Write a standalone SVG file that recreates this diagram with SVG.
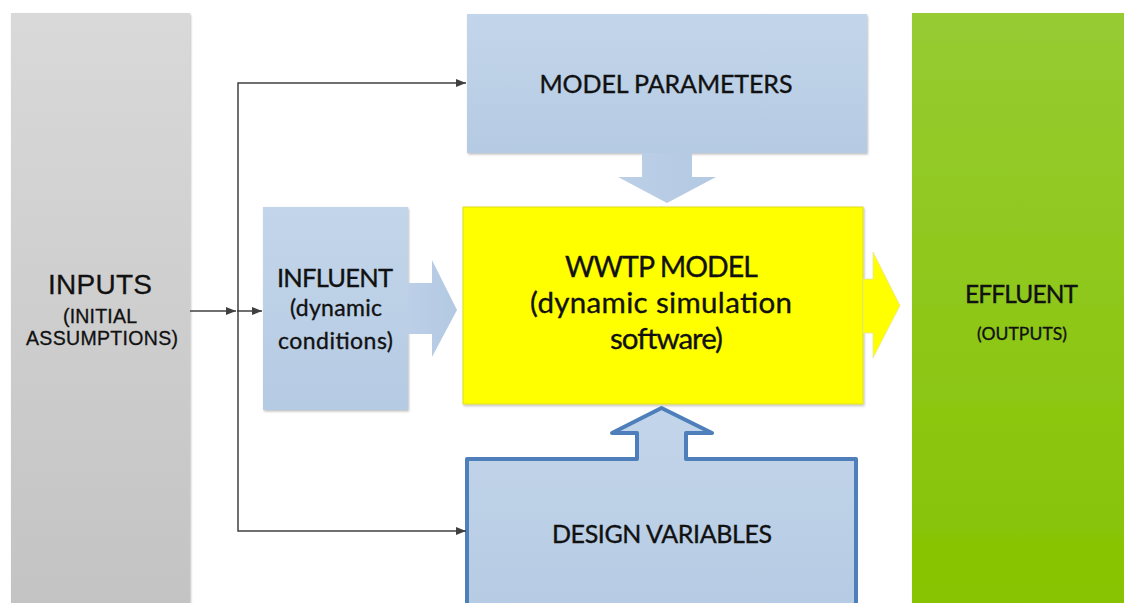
<svg xmlns="http://www.w3.org/2000/svg" width="1124" height="603" viewBox="0 0 1124 603">
  <defs>
    <linearGradient id="gGray" x1="0" y1="0" x2="0" y2="1">
      <stop offset="0" stop-color="#d9d9d9"/>
      <stop offset="1" stop-color="#c3c3c3"/>
    </linearGradient>
    <linearGradient id="gBlue" x1="0" y1="0" x2="0" y2="1">
      <stop offset="0" stop-color="#c3d5ea"/>
      <stop offset="1" stop-color="#b5cbe3"/>
    </linearGradient>
    <linearGradient id="gBlueH" x1="0" y1="0" x2="1" y2="0">
      <stop offset="0" stop-color="#bccfe7"/>
      <stop offset="1" stop-color="#b3c9e2"/>
    </linearGradient>
    <linearGradient id="gGreen" x1="0" y1="0" x2="0" y2="1">
      <stop offset="0" stop-color="#96cc32"/>
      <stop offset="1" stop-color="#87c300"/>
    </linearGradient>
    <filter id="shadow" x="-5%" y="-5%" width="110%" height="110%">
      <feDropShadow dx="1" dy="1.5" stdDeviation="1.2" flood-color="#000" flood-opacity="0.25"/>
    </filter>
    <marker id="arrow" viewBox="0 0 10 10" refX="10" refY="5" markerWidth="10" markerHeight="10" markerUnits="userSpaceOnUse" orient="auto">
      <path d="M0,1 L10,5 L0,9 z" fill="#404040"/>
    </marker>
  </defs>
  <style>
    .cal { font-family: Lato, "Open Sans", "Liberation Sans", sans-serif; fill: #111; stroke: #111; stroke-width: 0.35; text-anchor: middle; }
    .ari { font-family: "Liberation Sans", Arial, sans-serif; fill: #111; stroke: #111; stroke-width: 0.3; text-anchor: middle; }
    .conn { fill: none; stroke: #404040; stroke-width: 1.5; }
    .blue { fill: url(#gBlue); }
  </style>

  <g id="inputs">
    <rect x="11" y="13" width="179" height="600" fill="url(#gGray)" filter="url(#shadow)"/>
    <text class="ari" x="100" y="294" font-size="28" textLength="104">INPUTS</text>
    <text class="ari" x="100" y="323" font-size="19.5" textLength="74">(INITIAL</text>
    <text class="ari" x="102" y="345" font-size="19.5" textLength="152">ASSUMPTIONS)</text>
  </g>

  <g id="model-parameters">
    <rect x="467" y="14" width="400" height="139" class="blue" filter="url(#shadow)"/>
    <polygon points="642,153 692,153 692,177 716,177 667,203 618,177 642,177" fill="url(#gBlueH)"/>
    <text class="cal" x="666" y="93" font-size="25" textLength="253">MODEL PARAMETERS</text>
  </g>

  <g id="influent">
    <rect x="263" y="207" width="145" height="203" class="blue" filter="url(#shadow)"/>
    <polygon points="408,283 432,283 432,260 457,310 432,357 432,334 408,334" fill="url(#gBlueH)"/>
    <text class="cal" x="335" y="287" font-size="25.5" textLength="116">INFLUENT</text>
    <text class="cal" x="336" y="316" font-size="23" textLength="92">(dynamic</text>
    <text class="cal" x="335.5" y="349" font-size="23" textLength="115">conditions)</text>
  </g>

  <g id="wwtp-model">
    <rect x="463" y="207" width="400" height="197" fill="#ffff00" stroke="#dede20" stroke-width="1" filter="url(#shadow)"/>
    <polygon points="863,279 873,279 873,252 900,305.5 873,358 873,333 863,333" fill="#ffff00" stroke="#e6e6a0" stroke-width="0.8"/>
    <text class="cal" x="661.5" y="277" font-size="28.5" textLength="193">WWTP MODEL</text>
    <text class="cal" x="661" y="313" font-size="29.5" textLength="262">(dynamic simulation</text>
    <text class="cal" x="666.5" y="349" font-size="29.5" textLength="113">software)</text>
  </g>

  <g id="design-variables">
    <path d="M467,620 V459 H637 V433 H612 L661.5,408 L712,433 H686 V459 H856 V620" class="blue" stroke="#4f7fba" stroke-width="4" stroke-linejoin="round"/>
    <text class="cal" x="662" y="543" font-size="25" textLength="220">DESIGN VARIABLES</text>
  </g>

  <g id="effluent">
    <rect x="912" y="13" width="220" height="600" fill="url(#gGreen)" filter="url(#shadow)"/>
    <text class="cal" x="1021.5" y="303" font-size="24.5" textLength="113">EFFLUENT</text>
    <text class="cal" x="1022" y="340" font-size="17.5" textLength="90">(OUTPUTS)</text>
  </g>

  <g id="connectors">
    <path class="conn" d="M190,311 H236" marker-end="url(#arrow)"/>
    <path class="conn" d="M238,311 H262" marker-end="url(#arrow)"/>
    <path class="conn" d="M238,312 V83 H466" marker-end="url(#arrow)"/>
    <path class="conn" d="M238,310 V531 H466" marker-end="url(#arrow)"/>
  </g>
</svg>
